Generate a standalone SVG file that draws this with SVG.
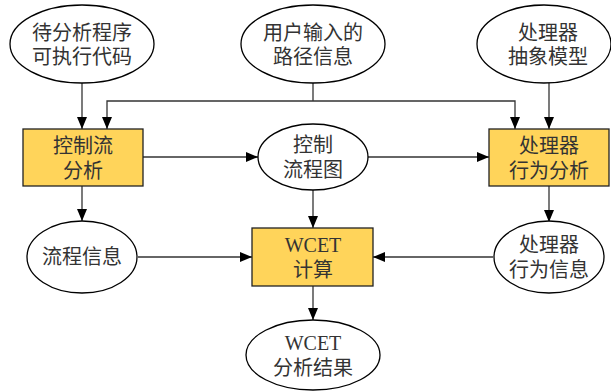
<svg xmlns="http://www.w3.org/2000/svg" width="611" height="391" viewBox="0 0 611 391">
<style>
.n{fill:#fff;stroke:#000;stroke-width:1.3}
.b{fill:#FFD45A;stroke:#222;stroke-width:1.3}
.t{font-family:"Liberation Serif","Noto Sans CJK SC",serif;font-size:20px;fill:#333;text-anchor:middle;dominant-baseline:central}
.c{fill:none;stroke:#333;stroke-width:1.3;marker-end:url(#a)}
.l{fill:none;stroke:#333;stroke-width:1.3}
</style>
<defs>
<marker id="a" viewBox="0 0 12 10" refX="12" refY="5" markerWidth="12" markerHeight="10" markerUnits="userSpaceOnUse" orient="auto">
<path d="M0,0L12,5L0,10z" fill="#000"/>
</marker>
</defs>
<rect width="611" height="391" fill="#fff"/>
<g id="connectors">
<line class="c" x1="82" y1="83" x2="82" y2="129"/>
<line class="l" x1="313" y1="83" x2="313" y2="101"/>
<polyline class="c" points="313,101 107,101 107,129"/>
<polyline class="c" points="313,101 515,101 515,129"/>
<line class="c" x1="549" y1="83" x2="549" y2="129"/>
<line class="c" x1="143" y1="157" x2="258" y2="157"/>
<line class="c" x1="368" y1="157" x2="489" y2="157"/>
<line class="c" x1="82" y1="186" x2="82" y2="221"/>
<line class="c" x1="313" y1="190" x2="313" y2="228"/>
<line class="c" x1="549" y1="186" x2="549" y2="222"/>
<line class="c" x1="138" y1="257" x2="252" y2="257"/>
<line class="c" x1="493" y1="257" x2="373" y2="257"/>
<line class="c" x1="313" y1="286" x2="313" y2="320"/>
</g>
<g id="n1"><ellipse class="n" cx="82" cy="44" rx="72" ry="39"/><text class="t" x="82" y="33">待分析程序</text><text class="t" x="82" y="57">可执行代码</text></g>
<g id="n2"><ellipse class="n" cx="313" cy="44" rx="72" ry="39"/><text class="t" x="313" y="33">用户输入的</text><text class="t" x="313" y="57">路径信息</text></g>
<g id="n3"><ellipse class="n" cx="544" cy="44" rx="67" ry="39"/><text class="t" x="548" y="33">处理器</text><text class="t" x="548" y="57">抽象模型</text></g>
<g id="n4"><rect class="b" x="23" y="129" width="120" height="57"/><text class="t" x="83" y="146">控制流</text><text class="t" x="83" y="171">分析</text></g>
<g id="n5"><ellipse class="n" cx="313" cy="157" rx="55" ry="33"/><text class="t" x="313" y="145">控制</text><text class="t" x="313" y="170">流程图</text></g>
<g id="n6"><rect class="b" x="489" y="129" width="120" height="57"/><text class="t" x="549" y="146">处理器</text><text class="t" x="549" y="171">行为分析</text></g>
<g id="n7"><ellipse class="n" cx="82" cy="257" rx="55" ry="36"/><text class="t" x="82" y="257">流程信息</text></g>
<g id="n8"><rect class="b" x="252" y="228" width="121" height="58"/><text class="t" x="313" y="245">WCET</text><text class="t" x="313" y="270">计算</text></g>
<g id="n9"><ellipse class="n" cx="549" cy="257" rx="55" ry="36"/><text class="t" x="549" y="245">处理器</text><text class="t" x="549" y="270">行为信息</text></g>
<g id="n10"><ellipse class="n" cx="313" cy="355" rx="67" ry="35"/><text class="t" x="313" y="343">WCET</text><text class="t" x="313" y="368">分析结果</text></g>
</svg>
